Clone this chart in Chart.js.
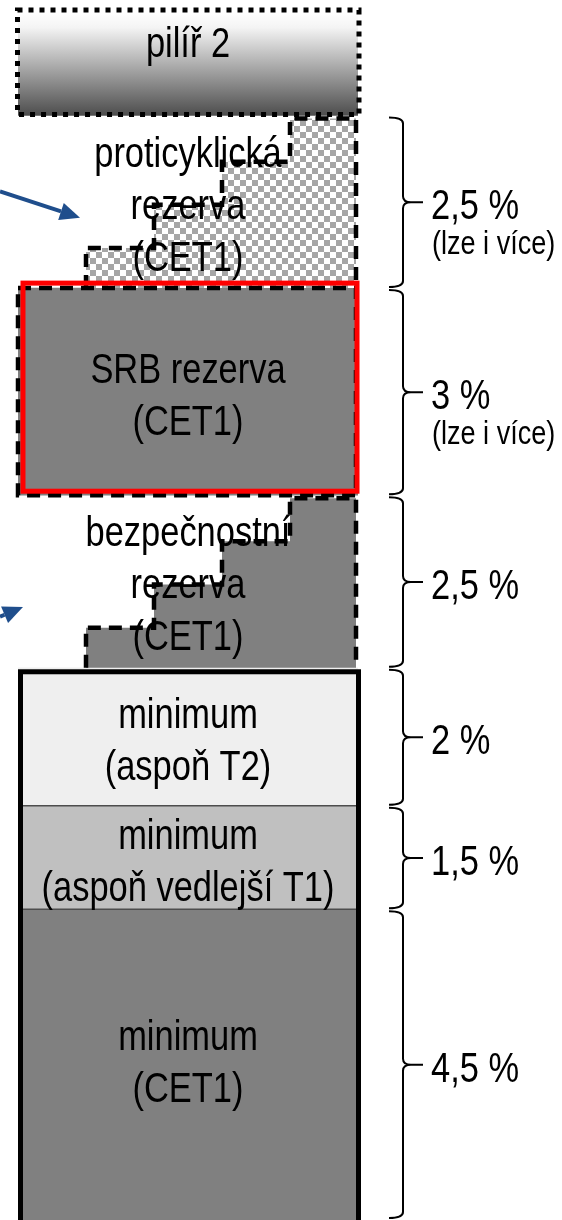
<!DOCTYPE html>
<html>
<head>
<meta charset="utf-8">
<script src="https://cdn.jsdelivr.net/npm/chart.js"></script>
<style>
  html, body { margin: 0; padding: 0; background: #fff; }
  canvas { display: block; }
</style>
</head>
<body>
<canvas id="capital" width="562" height="1220"></canvas>
<script>
// vrstvy kapitálu odspodu nahoru
const layerNames = ['minimum (CET1)', 'minimum (aspoň vedlejší T1)', 'minimum (aspoň T2)',
    'bezpečnostní rezerva (CET1)', 'SRB rezerva (CET1)', 'proticyklická rezerva (CET1)', 'pilíř 2'];
const layerLines = [['minimum', '(CET1)'], ['minimum', '(aspoň vedlejší T1)'], ['minimum', '(aspoň T2)'],
    ['bezpečnostní', 'rezerva', '(CET1)'], ['SRB rezerva', '(CET1)'], ['proticyklická', 'rezerva', '(CET1)'], ['pilíř 2']];
const layerValues = [4.5, 1.5, 2, 2.5, 3, 2.5, 1.5];
const pctLabels = ['4,5 %', '1,5 %', '2 %', '2,5 %', '3 %', '2,5 %', ''];
const noteLabels = ['', '', '', '', '(lze i více)', '(lze i více)', ''];
// postupné zavádění rezerv (4 kroky)
const phaseIn = [0.625, 1.25, 1.875, 2.5];

const total = layerValues.reduce((a, b) => a + b, 0);
const bases = layerValues.map((v, i) => layerValues.slice(0, i).reduce((a, b) => a + b, 0));
const FONT = '"Liberation Sans", Arial, sans-serif';
const NARROW = 0.82;

// sachovnice pro proticyklickou rezervu
const tile = document.createElement('canvas');
tile.width = 12; tile.height = 12;
const tctx = tile.getContext('2d');
tctx.fillStyle = '#fff'; tctx.fillRect(0, 0, 12, 12);
tctx.fillStyle = '#a6a6a6'; tctx.fillRect(0, 0, 6, 6); tctx.fillRect(6, 6, 6, 6);

const fills = [
    '#808080',
    '#c0c0c0',
    '#efefef',
    'rgba(0,0,0,0)',
    '#808080',
    'rgba(0,0,0,0)',
    function (c) {
        const ch = c.chart;
        if (!ch.chartArea) return '#999';
        const y = ch.scales.y;
        const g = ch.ctx.createLinearGradient(0, y.getPixelForValue(total), 0, y.getPixelForValue(total - layerValues[6]));
        g.addColorStop(0, '#ffffff');
        g.addColorStop(0.15, '#f4f4f4');
        g.addColorStop(1, '#4d4d4d');
        return g;
    }
];

function narrowText(ctx, s, x, y, align) {
    ctx.save();
    ctx.translate(x, y);
    ctx.scale(NARROW, 1);
    ctx.textAlign = align;
    ctx.fillText(s, 0, 0);
    ctx.restore();
}

function stepPath(ctx, area, y, base, shift) {
    const w = area.right - area.left;
    const xs = [1, 2, 3, 4].map(k => area.left + w * k / 5);
    const right = area.right - 2;
    const yb = y.getPixelForValue(base);
    ctx.beginPath();
    ctx.moveTo(xs[0], yb);
    for (let k = 0; k < 4; k++) {
        const yy = y.getPixelForValue(base + phaseIn[k]) + shift;
        ctx.lineTo(xs[k], yy);
        ctx.lineTo(k < 3 ? xs[k + 1] : right, yy);
    }
    ctx.lineTo(right, yb);
}

function brace(ctx, x, y1, y2) {
    const ym = (y1 + y2) / 2, h = 14, r = 6, t = 20;
    ctx.beginPath();
    ctx.moveTo(x - h, y1);
    ctx.quadraticCurveTo(x, y1, x, y1 + r);
    ctx.lineTo(x, ym - r);
    ctx.quadraticCurveTo(x, ym, x + r + 2, ym);
    ctx.lineTo(x + t, ym);
    ctx.moveTo(x + r + 2, ym);
    ctx.quadraticCurveTo(x, ym, x, ym + r);
    ctx.lineTo(x, y2 - r);
    ctx.quadraticCurveTo(x, y2, x - h, y2);
    ctx.stroke();
}

function arrow(ctx, x0, y0, x1, y1) {
    const a = Math.atan2(y1 - y0, x1 - x0), L = 20, W = 9;
    const bx = x1 - L * Math.cos(a), by = y1 - L * Math.sin(a);
    ctx.beginPath();
    ctx.moveTo(x0, y0);
    ctx.lineTo(bx, by);
    ctx.stroke();
    ctx.beginPath();
    ctx.moveTo(x1, y1);
    ctx.lineTo(bx + W * Math.sin(a), by - W * Math.cos(a));
    ctx.lineTo(bx - W * Math.sin(a), by + W * Math.cos(a));
    ctx.closePath();
    ctx.fill();
}

const diagramPlugin = {
    id: 'diagram',
    afterDatasetsDraw(chart) {
        const ctx = chart.ctx, area = chart.chartArea, y = chart.scales.y;
        const left = area.left, right = area.right, cx = (left + right) / 2;
        ctx.save();

        // schodovite vyplne rezerv
        ctx.fillStyle = '#808080';
        stepPath(ctx, area, y, bases[3], 3); ctx.closePath(); ctx.fill();
        ctx.fillStyle = ctx.createPattern(tile, 'repeat');
        stepPath(ctx, area, y, bases[5], 3); ctx.closePath(); ctx.fill();

        // oddelovace minima
        ctx.strokeStyle = '#4d4d4d'; ctx.lineWidth = 1.5;
        [1, 2].forEach(i => {
            const yy = y.getPixelForValue(bases[i]);
            ctx.beginPath(); ctx.moveTo(left, yy); ctx.lineTo(right, yy); ctx.stroke();
        });

        // texty vrstev
        ctx.fillStyle = '#000';
        ctx.textBaseline = 'alphabetic';
        ctx.font = '42px ' + FONT;
        layerLines.forEach((lines, i) => {
            const top = y.getPixelForValue(bases[i] + layerValues[i]);
            const bot = Math.min(y.getPixelForValue(bases[i]), area.bottom);
            let mid = (top + bot) / 2 + 2;
            if (i === 6) mid = top + 30;
            if (i === 0) mid -= 6;
            const gap = 52;
            lines.forEach((s, k) => {
                const c = mid + (k - (lines.length - 1) / 2) * gap;
                narrowText(ctx, s, cx, c + 15, 'center');
            });
        });

        // carkovane obrysy schodu
        ctx.strokeStyle = '#000'; ctx.lineWidth = 4.5; ctx.setLineDash([13, 8]);
        stepPath(ctx, area, y, bases[3], 3); ctx.stroke();
        stepPath(ctx, area, y, bases[5], 3); ctx.stroke();

        // SRB: carkovany a cerveny ramecek
        const sTop = y.getPixelForValue(bases[5]), sBot = y.getPixelForValue(bases[4]);
        ctx.strokeRect(left, sTop, right - 2 - left, sBot - sTop);
        ctx.setLineDash([]);
        ctx.strokeStyle = '#ff0000'; ctx.lineWidth = 5;
        ctx.strokeRect(left + 5, sTop - 5, right - left - 6, sBot - sTop + 1);

        // pilir 2: teckovany ramecek
        const pTop = y.getPixelForValue(total), pBot = y.getPixelForValue(bases[6]);
        ctx.strokeStyle = '#000'; ctx.lineWidth = 5; ctx.setLineDash([5, 6]);
        ctx.strokeRect(left - 0.5, pTop - 2, right - left + 1.5, pBot - pTop + 1);
        ctx.setLineDash([]);

        // ramecek minima
        const mTop = y.getPixelForValue(bases[3]);
        ctx.lineWidth = 5;
        ctx.strokeRect(left + 2.5, mTop + 4, right - left - 2, area.bottom + 20 - mTop);

        // slozene zavorky a procenta
        ctx.strokeStyle = '#000'; ctx.lineWidth = 2;
        for (let i = 0; i < 6; i++) {
            const y1 = y.getPixelForValue(bases[i] + layerValues[i]) + 2;
            const y2 = Math.min(y.getPixelForValue(bases[i]) - 1, area.bottom - 2);
            brace(ctx, 403, y1, y2);
            const ym = (y1 + y2) / 2;
            ctx.font = '42px ' + FONT;
            narrowText(ctx, pctLabels[i], 431, ym + 17, 'left');
            if (noteLabels[i]) {
                ctx.font = '33px ' + FONT;
                narrowText(ctx, noteLabels[i], 432, ym + 52, 'left');
            }
        }

        // sipky
        ctx.strokeStyle = '#1f4e8c'; ctx.fillStyle = '#1f4e8c'; ctx.lineWidth = 4;
        arrow(ctx, 0, y.getPixelForValue(14.9), left + 62, y.getPixelForValue(14.52));
        arrow(ctx, 0, y.getPixelForValue(8.74), left + 5, y.getPixelForValue(8.88));

        ctx.restore();
    }
};

new Chart(document.getElementById('capital'), {
    type: 'bar',
    data: {
        labels: ['kapitál'],
        datasets: layerValues.map((v, i) => ({
            label: layerNames[i],
            data: [v],
            backgroundColor: fills[i],
            borderWidth: 0,
            barPercentage: 1,
            categoryPercentage: 1
        }))
    },
    options: {
        responsive: false,
        animation: false,
        devicePixelRatio: 1,
        layout: { padding: { left: 18, right: 204, top: 12, bottom: 0 } },
        plugins: { legend: { display: false }, tooltip: { enabled: false } },
        scales: {
            x: { stacked: true, display: false },
            y: { stacked: true, display: false, min: 0, max: total }
        }
    },
    plugins: [diagramPlugin]
});
</script>
</body>
</html>
